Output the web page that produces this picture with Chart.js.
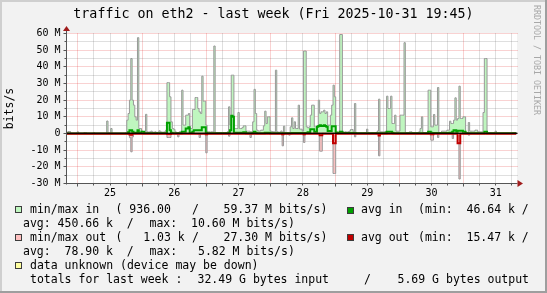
<!DOCTYPE html>
<html>
<head>
<meta charset="utf-8">
<title>traffic on eth2 - last week</title>
<script src="https://cdn.jsdelivr.net/npm/chart.js@4.4.1/dist/chart.umd.min.js"></script>
<style>
  html, body { margin: 0; padding: 0; background: #f2f2f2; }
  #wrap { position: relative; width: 547px; height: 293px; overflow: hidden; font-family: 'DejaVu Sans Mono', monospace; color: #000; }
  #wrap canvas { position: absolute; left: 0; top: 0; }
  .title { position: absolute; left: 0; top: 5.8px; width: 547px; text-align: center; font-size: 13.3px; line-height: 15px; white-space: pre; }
  .mark { position: absolute; left: 532px; top: 5px; writing-mode: vertical-rl; font-size: 8.3px; line-height: 10px; color: #a8a8a8; white-space: pre; }
  .t { position: absolute; font-size: 11.5px; line-height: 14px; white-space: pre; }
  .box { position: absolute; width: 7px; height: 7px; box-sizing: border-box; border: 1px solid #3c3c3c; }
</style>
</head>
<body>
<div id="wrap">
  <canvas id="traffic" width="547" height="293"></canvas>

  <div class="title">traffic on eth2 - last week (Fri 2025-10-31 19:45)</div>
  <div class="mark">RRDTOOL / TOBI OETIKER</div>

  <!-- legend, laid out like rrdtool does it -->
  <div class="box" style="left:15px;top:206px;background:#c0f8c0"></div>
  <span class="t" style="left:30px;top:202.3px">min/max in</span>
  <span class="t" style="left:115.5px;top:202.3px">( 936.00</span>
  <span class="t" style="left:192px;top:202.3px">/</span>
  <span class="t" style="left:223.5px;top:202.3px">59.37 M bits/s)</span>
  <div class="box" style="left:346.5px;top:206.5px;background:#00a000"></div>
  <span class="t" style="left:361px;top:202.3px">avg in</span>
  <span class="t" style="left:418px;top:202.3px">(min:  46.64 k /</span>

  <span class="t" style="left:23px;top:216.2px">avg: 450.66 k  /</span>
  <span class="t" style="left:149.5px;top:216.2px">max:  10.60 M bits/s)</span>

  <div class="box" style="left:15px;top:234px;background:#ffc0c0"></div>
  <span class="t" style="left:30px;top:230.1px">min/max out</span>
  <span class="t" style="left:115.5px;top:230.1px">(   1.03 k</span>
  <span class="t" style="left:192px;top:230.1px">/</span>
  <span class="t" style="left:223.5px;top:230.1px">27.30 M bits/s)</span>
  <div class="box" style="left:346.5px;top:234px;background:#c00000"></div>
  <span class="t" style="left:361px;top:230.1px">avg out</span>
  <span class="t" style="left:418px;top:230.1px">(min:  15.47 k /</span>

  <span class="t" style="left:23px;top:244px">avg:  78.90 k  /</span>
  <span class="t" style="left:149.5px;top:244px">max:   5.82 M bits/s)</span>

  <div class="box" style="left:15px;top:262px;background:#ffffa0"></div>
  <span class="t" style="left:30px;top:257.9px">data unknown (device may be down)</span>

  <span class="t" style="left:30px;top:271.8px">totals for last week :</span>
  <span class="t" style="left:197.5px;top:271.8px">32.49 G bytes input</span>
  <span class="t" style="left:364px;top:271.8px">/</span>
  <span class="t" style="left:397.5px;top:271.8px">5.69 G bytes output</span>
</div>

<script>
// week from Fri 24.10. 19:45 to Fri 31.10. 19:45, x in hours since start
const STEP_H = 0.5;          // one rra row = 30 min
const SPAN_H = 168;
const MIDNIGHT_H = 4.25;     // first midnight (25.10. 00:00)
const DAY_TICKS = [16.25, 40.25, 64.25, 88.25, 112.25, 136.25, 160.25];
const DAY_LABELS = ['25', '26', '27', '28', '29', '30', '31'];
const Y_TICKS = [-30, -20, -10, 0, 10, 20, 30, 40, 50, 60];

// values in M bits/s, one per 30 min, 24 per line (= 12 h)
const MAX_IN = [
  0.2,1.2,1.2,0.3,0.2,0.2,0.2,0.2,1.0,0.2,0.2,0.2,0.2,0.6,0.6,0.2,0.2,0.2,0.2,0.2,0.6,0.2,0.2,0.2,
  0.2,0.2,0.2,0.2,0.2,0.2,7.5,0.3,0.3,3.0,0.2,0.2,0.2,0.2,0.2,0.2,0.2,0.2,0.2,0.2,0.5,8.0,12,20,
  45,20,17,10,8,57.5,3,3,1.5,1.2,1.0,11.5,1.0,0.8,1.0,1.4,0.8,0.8,1.0,0.6,0.8,1.6,1.0,0.8,
  0.8,1.0,2.0,30.5,30.5,22,7,3,2.5,1.0,0.6,0.6,1.0,0.8,26,5,5,11,11,12,3,3,14.4,14.4,
  21.6,21.6,15,13,12,34.4,19.4,19.4,5,1,1,0.8,1,1,52.5,0.6,0.6,0.4,0.6,0.6,0.4,0.6,0.6,0.6,
  1,16,5,35,35,3,3,3,12.6,3,3,3.5,4.6,4.6,1.4,1.4,1.4,1,1,7,26.5,12,2,1.5,
  1.5,2,2,4.6,13.4,6,10,10,1.5,1.2,1,1,38,1,0.8,0.8,1.5,0.6,4.4,0.4,0.6,0.4,0.4,4,
  9.4,3,7,3,3,17,2.6,2.6,1.4,49.5,49.5,4,3.4,4,11,17,17,4,4,4,20,12,13,13,
  14,12,13,5,5,11,17,29,22,1,1,0.6,59.4,59.4,1,0.8,1,0.8,1,1.4,2.4,2.4,1,18,
  0.6,0.5,0.5,0.4,0.5,0.5,0.5,0.6,2.6,0.5,0.4,0.4,0.5,0.5,0.5,0.6,1.5,20.6,1,1,1,1,1.2,22.4,
  15,15,22.4,6,6,11,1.4,1.4,1.4,11,11,11,54.5,0.6,0.5,0.5,1,1,0.6,0.5,0.5,0.4,0.6,1,
  3,10,0.6,0.6,0.6,0.6,26,26,4,4,11.4,5,5,27.6,0.6,0.6,1.4,1.4,1.4,1.4,2,2,7.4,6,
  6,8,21.4,8,9,28.4,9,9,10,10,0.6,0.6,6.6,1.4,1.4,1.4,1.4,2,2,1,1,1,1,12.6,
  45,45,0.5,0.5,0.5,0.5,0.5,0.4,1.4,0.3,0.3,0.3,0.3,0.3,0.3,0.3,0.3,0.3,0.3,0.3,0.3,0.6,0.6,0.6
];

const AVG_IN = [
  0.05,0.05,0.05,0.05,0.05,0.05,0.05,0.05,0.05,0.05,0.05,0.05,0.05,0.05,0.05,0.05,0.05,0.05,0.05,0.05,0.05,0.05,0.05,0.05,
  0.05,0.05,0.05,0.05,0.05,0.05,0.05,0.05,0.05,0.05,0.05,0.05,0.05,0.05,0.05,0.05,0.05,0.05,0.05,0.05,0.05,0.05,0.8,2,
  2,1,0.5,0.5,0.5,2,0.5,0.5,1,1,0.1,0.1,0.1,0.1,0.1,0.1,0.1,0.1,0.1,0.1,0.1,0.1,0.1,0.1,
  0.1,0.1,0.1,6.4,6.4,2,0.5,0.1,0.1,0.1,0.1,0.1,0.1,0.1,1,1,1,3,3,3.8,0.5,0.5,1,2,
  2,2,2,2,2,3.8,3.8,3.8,0.5,0.1,0.1,0.1,0.1,0.1,0.1,0.1,0.1,0.1,0.1,0.1,0.1,0.1,0.1,0.1,
  0.1,0.5,2,10.6,10,0.5,0.5,0.5,0.5,0.5,0.5,0.5,0.8,0.8,0.2,0.2,0.2,0.2,0.2,0.5,1,0.5,0.2,0.1,
  0.1,0.1,0.1,0.1,0.5,0.5,0.5,0.5,0.1,0.1,0.1,0.1,0.1,0.1,0.1,0.1,0.1,0.1,0.1,0.1,0.1,0.1,0.1,0.1,
  0.3,0.3,0.3,0.3,0.3,0.3,0.3,0.3,0.3,0.3,0.3,0.3,0.8,0.8,2.5,2.5,2.5,1,1,4,4.5,5,4.5,4.5,
  5,4.5,4,1.5,1.5,1.5,4.4,4.4,4.4,0.5,0.3,0.3,1,1,0.3,0.3,0.3,0.3,0.3,0.3,0.3,0.3,0.3,0.3,
  0.2,0.2,0.2,0.2,0.2,0.2,0.2,0.2,0.2,0.2,0.2,0.2,0.2,0.2,0.2,0.2,0.2,0.2,0.2,0.2,0.2,0.2,0.2,1,
  1,1,1,0.5,0.1,0.1,0.1,0.1,0.1,0.1,0.1,0.1,0.1,0.1,0.1,0.1,0.1,0.1,0.1,0.1,0.1,0.1,0.1,0.1,
  0.1,0.1,0.1,0.1,0.1,0.1,1,1,0.5,0.3,0.3,0.3,0.3,0.3,0.3,0.3,0.3,0.3,0.3,0.3,0.3,0.3,0.5,0.5,
  1,2,2,1,1.6,1.6,1.6,1.6,1,1,0.2,0.2,0.2,0.2,0.2,0.2,0.2,0.2,0.2,0.2,0.2,0.2,0.2,0.2,
  1,1,0.1,0.1,0.1,0.1,0.1,0.1,0.1,0.1,0.1,0.1,0.1,0.1,0.1,0.1,0.1,0.1,0.1,0.1,0.1,0.1,0.1,0.1
];

// outgoing traffic, drawn below the zero line
const MAX_OUT = [
  0.1,0.1,0.1,0.1,0.1,0.1,0.1,0.1,0.1,0.1,0.1,0.1,0.1,0.1,0.1,0.1,0.1,0.1,0.1,0.1,0.1,0.1,0.1,0.1,
  0.1,0.1,0.1,0.1,0.1,0.1,0.1,0.1,0.1,0.1,0.1,0.1,0.1,0.1,0.1,0.1,0.1,0.1,0.1,0.1,0.1,0.1,0.1,2.5,
  11,2,0.1,0.1,0.1,0.1,0.1,0.1,0.1,0.1,0.1,0.1,0.1,0.1,0.1,0.1,0.1,0.1,0.1,0.1,0.1,0.1,0.1,0.1,
  0.1,0.1,0.1,2.4,2.4,2.4,0.1,0.1,0.1,0.1,0.1,2,0.1,0.1,0.1,0.1,0.1,0.1,0.1,0.1,0.1,0.1,0.1,0.1,
  0.1,0.1,0.1,2.4,0.1,0.1,0.1,0.1,11.6,0.1,0.1,0.1,0.1,0.1,0.1,0.1,0.1,0.1,0.1,0.1,0.1,0.1,0.1,0.1,
  0.1,1.6,0.1,0.1,0.1,0.1,0.1,0.1,0.1,0.1,0.1,0.1,0.1,0.1,0.1,0.1,0.1,2.4,0.1,0.1,0.1,0.1,0.1,0.1,
  0.1,0.1,0.1,0.1,0.1,0.1,0.1,0.1,0.1,0.1,0.1,0.1,0.1,0.1,0.1,0.1,0.1,7.4,0.1,0.1,0.1,0.1,1,0.1,
  0.1,0.1,0.1,0.1,0.1,0.1,0.1,0.1,0.1,5.4,0.1,0.1,0.1,0.1,0.1,0.1,0.1,0.1,0.1,0.1,0.1,10.6,10.6,0.1,
  0.1,0.1,0.1,0.1,0.1,0.1,0.1,24,24,0.1,0.1,0.1,0.1,0.1,0.1,0.1,0.1,0.1,0.1,0.1,0.1,0.1,0.1,2,
  0.1,0.1,0.1,0.1,0.1,0.1,0.1,0.1,0.1,0.1,0.1,0.1,0.1,0.1,0.1,0.1,0.1,13.4,0.1,0.1,0.1,0.1,0.1,0.1,
  0.1,0.1,0.1,0.1,0.1,0.1,0.1,0.1,0.1,0.1,0.1,0.1,0.1,0.1,0.1,0.1,0.1,0.1,0.1,0.1,0.1,0.1,0.1,0.1,
  0.1,0.1,0.1,0.1,0.1,0.1,0.1,0.1,4,4,0.1,0.1,0.1,2.4,0.1,0.1,0.1,0.1,0.1,0.1,0.1,0.1,0.1,0.1,
  3,0.1,0.1,0.1,6,27.3,0.1,0.1,0.1,0.1,0.1,0.1,1,0.1,0.1,0.1,0.1,0.1,0.1,0.1,0.1,0.1,0.1,0.1,
  0.1,0.1,0.1,0.1,0.1,0.1,0.1,0.1,0.1,0.1,0.1,0.1,0.1,0.1,0.1,0.1,0.1,0.1,0.1,0.1,0.1,0.1,0.1,0.1
];

const AVG_OUT = [
  0.08,0.08,0.08,0.08,0.08,0.08,0.08,0.08,0.08,0.08,0.08,0.08,0.08,0.08,0.08,0.08,0.08,0.08,0.08,0.08,0.08,0.08,0.08,0.08,
  0.08,0.08,0.08,0.08,0.08,0.08,0.08,0.08,0.08,0.08,0.08,0.08,0.08,0.08,0.08,0.08,0.08,0.08,0.08,0.08,0.08,0.08,0.08,0.6,
  0.8,0.08,0.08,0.08,0.08,0.08,0.08,0.08,0.08,0.08,0.08,0.08,0.08,0.08,0.08,0.08,0.08,0.08,0.08,0.08,0.08,0.08,0.08,0.08,
  0.08,0.08,0.08,0.3,0.3,0.3,0.08,0.08,0.08,0.08,0.08,0.08,0.08,0.08,0.08,0.08,0.08,0.08,0.08,0.08,0.08,0.08,0.08,0.08,
  0.08,0.08,0.08,0.08,0.08,0.08,0.08,0.08,0.5,0.08,0.08,0.08,0.08,0.08,0.08,0.08,0.08,0.08,0.08,0.08,0.08,0.08,0.08,0.08,
  0.08,0.08,0.08,0.08,0.08,0.08,0.08,0.08,0.08,0.08,0.08,0.08,0.08,0.08,0.08,0.08,0.08,0.08,0.08,0.08,0.08,0.08,0.08,0.08,
  0.08,0.08,0.08,0.08,0.08,0.08,0.08,0.08,0.08,0.08,0.08,0.08,0.08,0.08,0.08,0.08,0.08,0.5,0.08,0.08,0.08,0.08,0.08,0.08,
  0.08,0.08,0.08,0.08,0.08,0.08,0.08,0.08,0.08,0.4,0.08,0.08,0.08,0.08,0.08,0.08,0.08,0.08,0.08,0.08,0.08,1.0,1.0,0.08,
  0.08,0.08,0.08,0.08,0.08,0.08,0.08,5.8,5.8,0.08,0.08,0.08,0.08,0.08,0.08,0.08,0.08,0.08,0.08,0.08,0.08,0.08,0.08,0.08,
  0.08,0.08,0.08,0.08,0.08,0.08,0.08,0.08,0.08,0.08,0.08,0.08,0.08,0.08,0.08,0.08,0.08,1.2,0.08,0.08,0.08,0.08,0.08,0.08,
  0.08,0.08,0.08,0.08,0.08,0.08,0.08,0.08,0.08,0.08,0.08,0.08,0.08,0.08,0.08,0.08,0.08,0.08,0.08,0.08,0.08,0.08,0.08,0.08,
  0.08,0.08,0.08,0.08,0.08,0.08,0.08,0.08,0.4,0.4,0.08,0.08,0.08,0.08,0.08,0.08,0.08,0.08,0.08,0.08,0.08,0.08,0.08,0.08,
  0.08,0.08,0.08,0.08,5.8,5.8,0.08,0.08,0.08,0.08,0.08,0.08,0.08,0.08,0.08,0.08,0.08,0.08,0.08,0.08,0.08,0.08,0.08,0.08,
  0.08,0.08,0.08,0.08,0.08,0.08,0.08,0.08,0.08,0.08,0.08,0.08,0.08,0.08,0.08,0.08,0.08,0.08,0.08,0.08,0.08,0.08,0.08,0.08
];

[MAX_IN, AVG_IN, MAX_OUT, AVG_OUT].forEach((a, k) => {
    if (a.length !== SPAN_H / STEP_H) throw new Error('series ' + k + ' has ' + a.length + ' rows');
});

// rrd rows -> step points, last row gets closed at the end of the week
function toPoints(values, sign) {
    const pts = values.map((v, i) => ({x: i * STEP_H, y: sign * v}));
    pts.push({x: values.length * STEP_H, y: sign * values[values.length - 1]});
    return pts;
}

const MAJOR = 'rgba(225, 40, 40, 0.42)';
const MINOR = 'rgba(110, 110, 110, 0.45)';
const AXIS = '#555555';
const ARROW = '#a01c1c';
const snap = v => Math.floor(v) + 0.5;

// rrdtool look: frame, white canvas, dotted grid, axes with arrows
const rrdFrame = {
    id: 'rrdFrame',
    beforeDraw(chart) {
        const {ctx, width, height} = chart;
        ctx.save();
        ctx.fillStyle = '#f2f2f2';
        ctx.fillRect(0, 0, width, height);
        ctx.fillStyle = '#cfcfcf';
        ctx.fillRect(0, 0, width, 2);
        ctx.fillRect(0, 0, 2, height);
        ctx.fillStyle = '#9e9e9e';
        ctx.fillRect(0, height - 2, width, 2);
        ctx.fillRect(width - 2, 0, 2, height);
        ctx.restore();
    },
    beforeDatasetsDraw(chart) {
        const {ctx, chartArea: a, scales: {x, y}} = chart;
        const left = snap(a.left), right = snap(a.right), top = snap(a.top), bottom = snap(a.bottom);
        ctx.save();
        ctx.fillStyle = '#ffffff';
        ctx.fillRect(left, top - 0.5, right - left + 0.5, bottom - top);
        ctx.lineWidth = 1;
        ctx.setLineDash([1, 1]);
        // horizontal: minor every 5 M, major every 10 M
        for (let v = y.min + 5; v <= y.max; v += 5) {
            const py = snap(y.getPixelForValue(v));
            ctx.strokeStyle = v % 10 === 0 ? MAJOR : MINOR;
            ctx.beginPath();
            ctx.moveTo(left, py);
            ctx.lineTo(right + 1, py);
            ctx.stroke();
        }
        // vertical: minor every 6 h, major at midnight
        for (let t = MIDNIGHT_H; t < x.max; t += 6) {
            const pxl = snap(x.getPixelForValue(t));
            ctx.strokeStyle = (t - MIDNIGHT_H) % 24 === 0 ? MAJOR : MINOR;
            ctx.beginPath();
            ctx.moveTo(pxl, top);
            ctx.lineTo(pxl, bottom);
            ctx.stroke();
        }
        ctx.restore();
    },
    afterDatasetsDraw(chart) {
        const {ctx, chartArea: a, scales: {x, y}} = chart;
        const left = snap(a.left), right = snap(a.right), bottom = snap(a.bottom);
        const zero = y.getPixelForValue(0);
        ctx.save();
        // zero line
        ctx.fillStyle = '#000000';
        ctx.fillRect(left, zero - 0.8, right - left + 1, 1.2);

        ctx.strokeStyle = AXIS;
        ctx.lineWidth = 1;
        ctx.beginPath();
        ctx.moveTo(left, bottom + 1);
        ctx.lineTo(left, a.top - 3);
        ctx.moveTo(left - 3, bottom);
        ctx.lineTo(right + 1, bottom);
        // tick marks
        for (let v = y.min + 5; v <= y.max; v += 5) {
            const py = snap(y.getPixelForValue(v));
            ctx.moveTo(left - (v % 10 === 0 ? 3 : 2), py);
            ctx.lineTo(left, py);
        }
        for (let t = MIDNIGHT_H; t < x.max; t += 6) {
            const pxl = snap(x.getPixelForValue(t));
            ctx.moveTo(pxl, bottom);
            ctx.lineTo(pxl, bottom + ((t - MIDNIGHT_H) % 24 === 0 ? 3 : 2));
        }
        ctx.stroke();

        // arrows
        ctx.fillStyle = ARROW;
        ctx.beginPath();
        ctx.moveTo(left - 3.5, a.top - 2.5);
        ctx.lineTo(left + 3.5, a.top - 2.5);
        ctx.lineTo(left, a.top - 7.5);
        ctx.closePath();
        ctx.fill();
        ctx.beginPath();
        ctx.moveTo(right + 1, bottom - 3.5);
        ctx.lineTo(right + 1, bottom + 3.5);
        ctx.lineTo(right + 6.5, bottom);
        ctx.closePath();
        ctx.fill();
        ctx.restore();
    }
};

Chart.defaults.font.family = "'DejaVu Sans Mono', monospace";

const stepLine = {stepped: 'before', pointRadius: 0, tension: 0, borderJoinStyle: 'miter'};

new Chart(document.getElementById('traffic'), {
    type: 'line',
    data: {
        datasets: [
            {...stepLine, label: 'min/max in', data: toPoints(MAX_IN, 1), fill: 'origin',
                backgroundColor: '#bff6bf', borderColor: '#999999', borderWidth: 1, order: 4},
            {...stepLine, label: 'avg in', data: toPoints(AVG_IN, 1), fill: false,
                borderColor: '#00a000', borderWidth: 2, order: 3},
            {...stepLine, label: 'min/max out', data: toPoints(MAX_OUT, -1), fill: 'origin',
                backgroundColor: '#f9c0c0', borderColor: '#999999', borderWidth: 1, order: 2},
            {...stepLine, label: 'avg out', data: toPoints(AVG_OUT, -1), fill: false,
                borderColor: '#c00000', borderWidth: 2, order: 1}
        ]
    },
    options: {
        responsive: false,
        animation: false,
        devicePixelRatio: 1,
        events: [],
        layout: {padding: {left: 0, right: 30.5, top: 33.5, bottom: 89.5}},
        plugins: {
            legend: {display: false},
            tooltip: {enabled: false},
            title: {display: false}
        },
        scales: {
            x: {
                type: 'linear',
                min: 0,
                max: SPAN_H,
                grid: {display: false, drawTicks: false},
                border: {display: false},
                afterBuildTicks: s => { s.ticks = DAY_TICKS.map(v => ({value: v})); },
                afterFit: s => { s.height = 20; },
                ticks: {
                    padding: 4, maxRotation: 0, autoSkip: false, color: '#000', font: {size: 10},
                    callback: (v, i) => DAY_LABELS[i]
                }
            },
            y: {
                type: 'linear',
                min: Y_TICKS[0],
                max: Y_TICKS[Y_TICKS.length - 1],
                grid: {display: false, drawTicks: false},
                border: {display: false},
                afterBuildTicks: s => { s.ticks = Y_TICKS.map(v => ({value: v})); },
                afterFit: s => { s.width = 66.5; },
                ticks: {
                    padding: 6, color: '#000', font: {size: 10},
                    callback: v => v === 0 ? '0' : v + ' M'
                },
                title: {display: true, text: 'bits/s', color: '#000', font: {size: 11.5}, padding: {top: 3, bottom: 0}}
            }
        }
    },
    plugins: [rrdFrame]
});
</script>
</body>
</html>
